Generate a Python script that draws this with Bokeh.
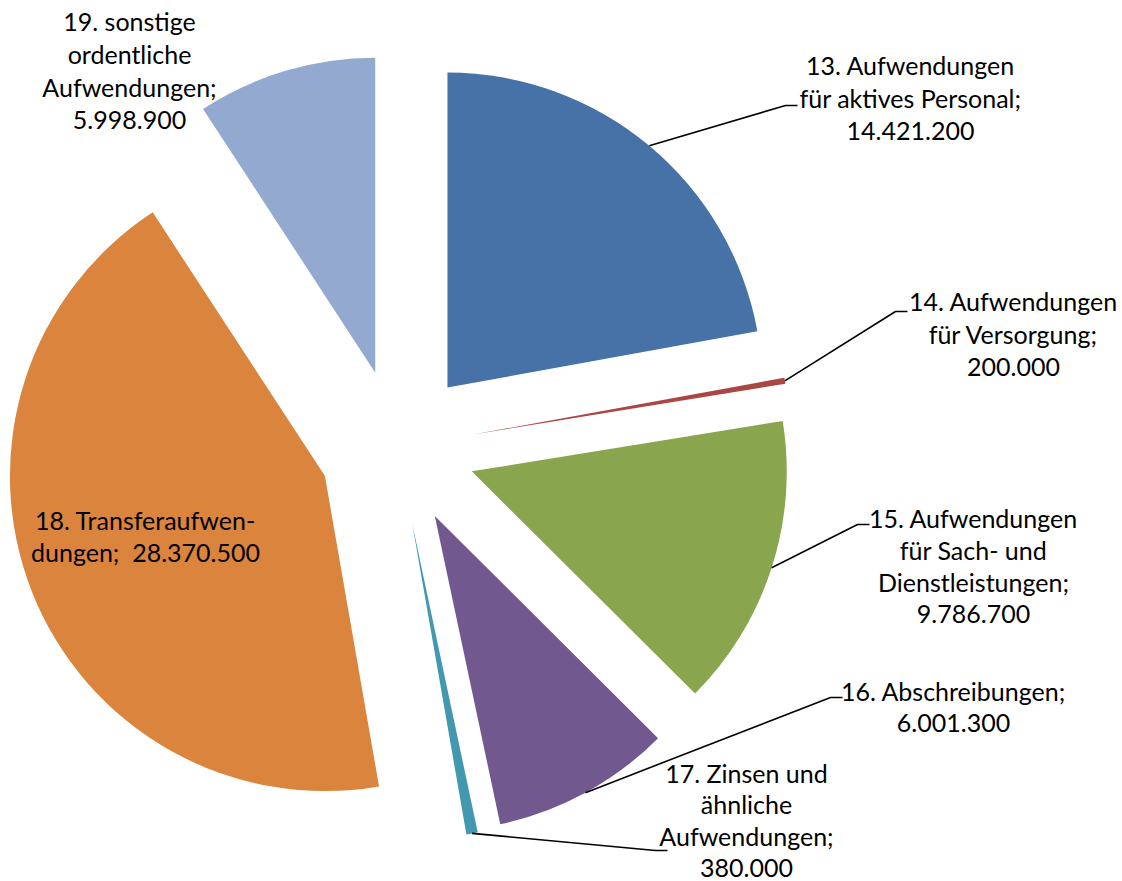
import numpy as np
from bokeh.plotting import figure
from bokeh.models import Range1d, ColumnDataSource
from bokeh.core.properties import value
from bokeh.embed import file_html
from bokeh.resources import INLINE

# ---------------- data ----------------
categories = [
    "13. Aufwendungen für aktives Personal",
    "14. Aufwendungen für Versorgung",
    "15. Aufwendungen für Sach- und Dienstleistungen",
    "16. Abschreibungen",
    "17. Zinsen und ähnliche Aufwendungen",
    "18. Transferaufwendungen",
    "19. sonstige ordentliche Aufwendungen",
]
values = [14421200, 200000, 9786700, 6001300, 380000, 28370500, 5998900]
colors = ["#4672A8", "#AA4643", "#89A54E", "#71588F", "#4198AF", "#DB843D", "#93A9CF"]
label_templates = [
    ["13. Aufwendungen", "für aktives Personal;", "{v}"],
    ["14. Aufwendungen", "für Versorgung;", "{v}"],
    ["15. Aufwendungen", "für Sach- und", "Dienstleistungen;", "{v}"],
    ["16. Abschreibungen;", "{v}"],
    ["17. Zinsen und", "ähnliche", "Aufwendungen;", "{v}"],
    ["18. Transferaufwen-", "dungen;\u00a0 {v}"],
    ["19. sonstige", "ordentliche", "Aufwendungen;", "{v}"],
]

# ---------------- layout (page pixel coordinates) ----------------
W, H = 1122, 881
CX, CY = 397, 447          # pie centre
R = 315                    # radius
EXPLODE = 78               # radial offset of each slice
label_pos = [(910, 64), (1013, 300), (973, 517), (953, 690), (746, 772), (145, 519), (129, 20)]
line_steps = [33, 33, 32, 32, 31.7, 32, 33]
elbows = [(785, 105), (895, 311), (857, 524), (830, 697), (655, 850), None, None]
FONT = "Lato"
FONT_SIZE = "25px"


def fy(y):
    return H - y


def de(v):
    return f"{v:,}".replace(",", ".")


vals = np.array(values, dtype=float)
frac = vals / vals.sum()
theta_end = np.cumsum(frac) * 2 * np.pi
theta_start = theta_end - frac * 2 * np.pi
theta_mid = (theta_start + theta_end) / 2

wx = CX + EXPLODE * np.sin(theta_mid)
wy = fy(CY) + EXPLODE * np.cos(theta_mid)

src = ColumnDataSource(dict(
    x=wx, y=wy,
    start=np.pi / 2 - theta_start,
    end=np.pi / 2 - theta_end,
    color=colors,
    cat=categories,
))

p = figure(width=W, height=H, x_range=Range1d(0, W), y_range=Range1d(0, H),
           output_backend="svg", toolbar_location=None, min_border=0,
           x_axis_location=None, y_axis_location=None, outline_line_color=None,
           background_fill_color="white", border_fill_color="white")
p.grid.visible = False

p.wedge(x="x", y="y", radius=R, start_angle="start", end_angle="end",
        direction="clock", fill_color="color", line_color=None, source=src)

# leader lines
lx, ly = [], []
for i, e in enumerate(elbows):
    if e is None:
        continue
    ax = wx[i] + R * np.sin(theta_mid[i])
    ay = wy[i] + R * np.cos(theta_mid[i])
    lx.append([ax, e[0], e[0] + 12])
    ly.append([ay, fy(e[1]), fy(e[1])])
p.multi_line(xs=lx, ys=ly, line_color="black", line_width=1.6)

# labels
tx, ty, tt = [], [], []
for i, tpl in enumerate(label_templates):
    x0, y0 = label_pos[i]
    for k, line in enumerate(tpl):
        tx.append(x0)
        ty.append(fy(y0 + k * line_steps[i]))
        tt.append(line.replace("{v}", de(values[i])))
p.text(x=tx, y=ty, text=tt, text_align="center", text_baseline="middle",
       text_font=value(FONT), text_font_size=FONT_SIZE, text_color="black")

open("out.html", "w").write(file_html(p, INLINE))
